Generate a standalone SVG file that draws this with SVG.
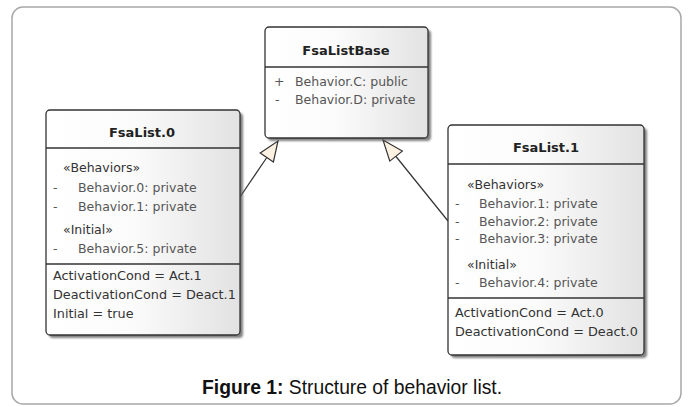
<svg xmlns="http://www.w3.org/2000/svg" width="694" height="407" viewBox="0 0 694 407">
<defs>
<linearGradient id="boxfill" x1="0" y1="0" x2="1" y2="0">
<stop offset="0" stop-color="#ffffff"/>
<stop offset="0.45" stop-color="#fbfbfb"/>
<stop offset="1" stop-color="#e2e2e2"/>
</linearGradient>
<filter id="shadow" x="-10%" y="-10%" width="130%" height="130%">
<feGaussianBlur stdDeviation="1"/>
</filter>
</defs>
<style>
.frame{fill:#ffffff;stroke:#a8a8a8;stroke-width:1.5}
.box{fill:url(#boxfill);stroke:#333333;stroke-width:1.3}
.shd{fill:#555555;opacity:0.75;filter:url(#shadow)}
.div{stroke:#333333;stroke-width:1.3}
.title{font-family:"DejaVu Sans",sans-serif;font-size:13px;font-weight:bold;fill:#222222;text-anchor:middle}
.mem{font-family:"DejaVu Sans",sans-serif;font-size:12.5px;fill:#555555}
.ster{font-family:"DejaVu Sans",sans-serif;font-size:12.5px;fill:#333333}
.cond{font-family:"DejaVu Sans",sans-serif;font-size:12.8px;fill:#333333}
.line{stroke:#333333;stroke-width:1.2;fill:none}
.head{fill:#fdf1e2;stroke:#333333;stroke-width:1.2}
.cap{font-family:"Liberation Sans",Arial,sans-serif;font-size:19.3px;fill:#111111}
</style>
<rect class="frame" x="12" y="7" width="669" height="397" rx="11"/>

<g id="connectors">
<line class="line" x1="240" y1="197" x2="266.8" y2="157.5"/>
<polygon class="head" points="278,141 273.4,162 260.2,153"/>
<line class="line" x1="448" y1="221" x2="396" y2="156.5"/>
<polygon class="head" points="383,140 402.3,151.1 389.8,161.1"/>
</g>

<g id="FsaListBase">
<rect class="shd" x="268" y="30" width="163" height="111" rx="4"/>
<rect class="box" x="265" y="27" width="163" height="111" rx="4"/>
<line class="div" x1="265" y1="67" x2="428" y2="67"/>
<text class="title" x="346" y="55">FsaListBase</text>
<text class="mem" x="274" y="86">+</text>
<text class="mem" x="295" y="86">Behavior.C: public</text>
<text class="mem" x="275" y="104">-</text>
<text class="mem" x="295" y="104">Behavior.D: private</text>
</g>

<g id="FsaList0">
<rect class="shd" x="49" y="113" width="194" height="225" rx="4"/>
<rect class="box" x="46" y="110" width="194" height="225" rx="4"/>
<line class="div" x1="46" y1="148" x2="240" y2="148"/>
<line class="div" x1="46" y1="264" x2="240" y2="264"/>
<text class="title" x="142" y="137">FsaList.0</text>
<text class="ster" x="63" y="172">«Behaviors»</text>
<text class="mem" x="53" y="192">-</text>
<text class="mem" x="78" y="192">Behavior.0: private</text>
<text class="mem" x="53" y="211">-</text>
<text class="mem" x="78" y="211">Behavior.1: private</text>
<text class="ster" x="63" y="234">«Initial»</text>
<text class="mem" x="53" y="253">-</text>
<text class="mem" x="78" y="253">Behavior.5: private</text>
<text class="cond" x="53" y="280">ActivationCond = Act.1</text>
<text class="cond" x="53" y="299">DeactivationCond = Deact.1</text>
<text class="cond" x="53" y="318">Initial = true</text>
</g>

<g id="FsaList1">
<rect class="shd" x="451" y="128" width="196" height="230" rx="4"/>
<rect class="box" x="448" y="125" width="196" height="230" rx="4"/>
<line class="div" x1="448" y1="164" x2="644" y2="164"/>
<line class="div" x1="448" y1="298" x2="644" y2="298"/>
<text class="title" x="546" y="152">FsaList.1</text>
<text class="ster" x="467" y="189">«Behaviors»</text>
<text class="mem" x="455" y="208">-</text>
<text class="mem" x="479" y="208">Behavior.1: private</text>
<text class="mem" x="455" y="226">-</text>
<text class="mem" x="479" y="226">Behavior.2: private</text>
<text class="mem" x="455" y="243">-</text>
<text class="mem" x="479" y="243">Behavior.3: private</text>
<text class="ster" x="467" y="269">«Initial»</text>
<text class="mem" x="455" y="287">-</text>
<text class="mem" x="479" y="287">Behavior.4: private</text>
<text class="cond" x="455" y="317">ActivationCond = Act.0</text>
<text class="cond" x="455" y="336">DeactivationCond = Deact.0</text>
</g>

<text class="cap" x="202" y="394"><tspan font-weight="bold">Figure 1:</tspan> Structure of behavior list.</text>
</svg>
